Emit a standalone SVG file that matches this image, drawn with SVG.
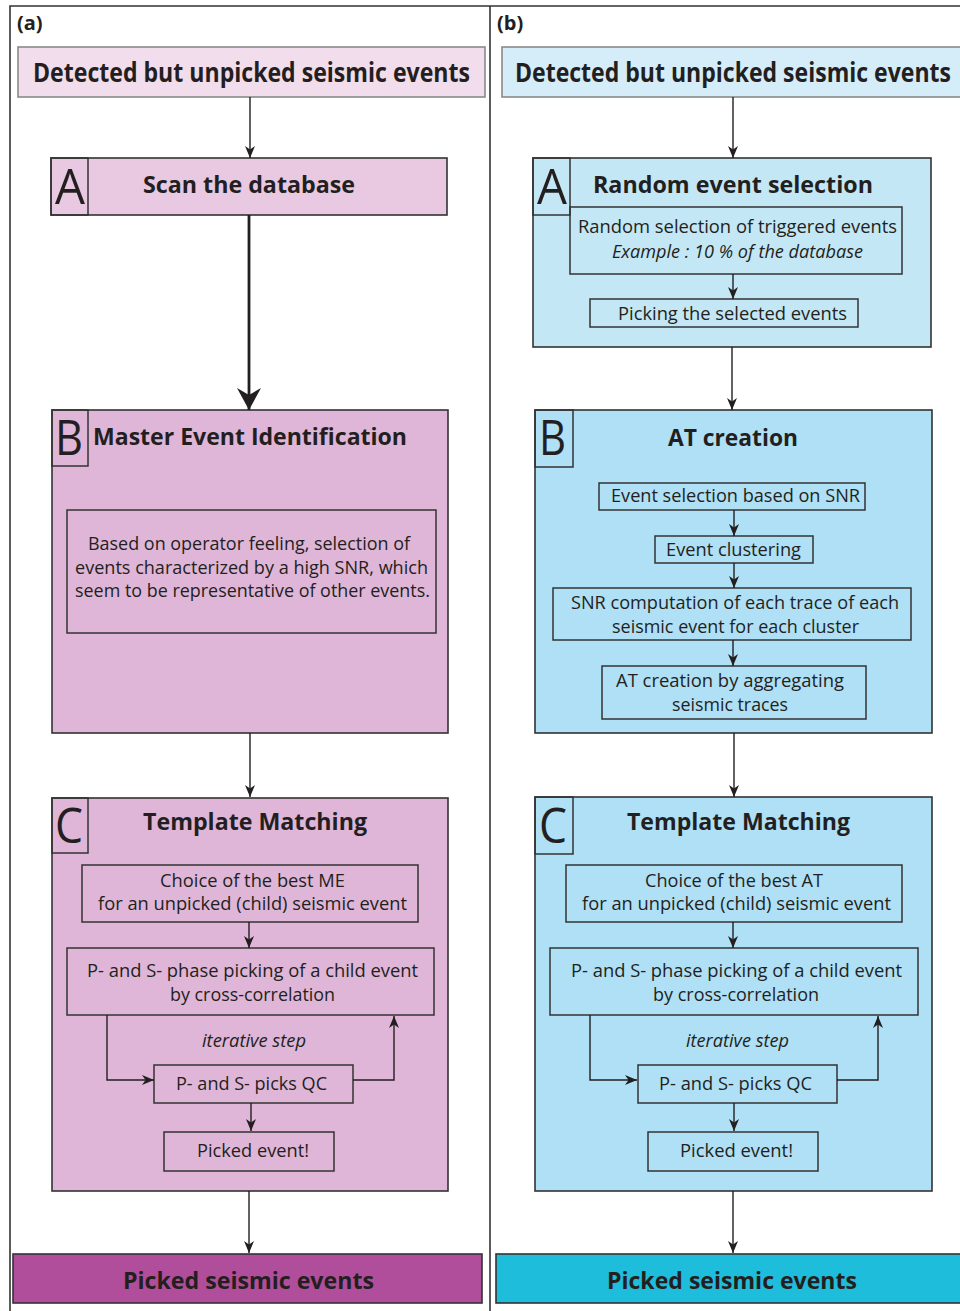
<svg xmlns="http://www.w3.org/2000/svg" width="960" height="1311" viewBox="0 0 960 1311">
<defs>
<style>
text{font-family:"Open Sans","Noto Sans","DejaVu Sans",sans-serif;fill:#231f20}
.t1{font-size:26px;font-weight:700}
.t2{font-size:24px;font-weight:700}
.r{font-size:18px}
.i{font-size:18px;font-style:italic}
.L{font-size:50px}
.p{font-size:20px;font-weight:700}
.bx{stroke:#333;stroke-width:1.6}
.top{stroke:#8a8a8a;stroke-width:1.6}
.in{fill:none;stroke:#333;stroke-width:1.5}
.ln{fill:none;stroke:#231f20;stroke-width:1.4}
.frame{fill:none;stroke:#333;stroke-width:1.6}
</style>
<marker id="ah" viewBox="0 0 12 12" refX="12" refY="6" markerWidth="12" markerHeight="12" markerUnits="userSpaceOnUse" orient="auto">
<path d="M0,1 L12,6 L0,11 L3.5,6 z" fill="#231f20"/>
</marker>
<marker id="ahB" viewBox="0 0 22 24" refX="22" refY="12" markerWidth="22" markerHeight="24" markerUnits="userSpaceOnUse" orient="auto">
<path d="M0,0 L22,12 L0,24 L7,12 z" fill="#231f20"/>
</marker>
</defs>
<rect width="960" height="1311" fill="#ffffff"/>
<g id="frame">
<path class="frame" d="M10,1311 V6 H960"/>
<path class="frame" d="M490,6 V1311"/>
<text class="p" x="17" y="30">(a)</text>
<text class="p" x="497" y="30">(b)</text>
</g>

<!-- LEFT PANEL -->
<g id="a-top">
<rect class="top" x="18" y="47" width="467" height="50" fill="#f2ddec"/>
<text class="t1" x="33" y="82" textLength="437" lengthAdjust="spacingAndGlyphs">Detected but unpicked seismic events</text>
</g>
<g id="a-A">
<rect class="bx" x="51" y="158" width="396" height="57" fill="#e9c8e1"/>
<rect class="in" x="51" y="158" width="37" height="57"/>
<text class="L" x="55" y="204" textLength="30" lengthAdjust="spacingAndGlyphs">A</text>
<text class="t2" x="143" y="193" textLength="212" lengthAdjust="spacingAndGlyphs">Scan the database</text>
</g>
<g id="a-B">
<rect class="bx" x="52" y="410" width="396" height="323" fill="#dfb6d7"/>
<rect class="in" x="52" y="410" width="36" height="56"/>
<text class="L" x="55" y="455" textLength="28" lengthAdjust="spacingAndGlyphs">B</text>
<text class="t2" x="93" y="445" textLength="314" lengthAdjust="spacingAndGlyphs">Master Event Identification</text>
</g>
<g id="a-B1">
<rect class="in" x="67" y="510" width="369" height="123"/>
<text class="r" x="88" y="550" textLength="322" lengthAdjust="spacingAndGlyphs">Based on operator feeling, selection of</text>
<text class="r" x="75" y="574" textLength="353" lengthAdjust="spacingAndGlyphs">events characterized by a high SNR, which</text>
<text class="r" x="75" y="597" textLength="355" lengthAdjust="spacingAndGlyphs">seem to be representative of other events.</text>
</g>
<g id="a-C">
<rect class="bx" x="52" y="798" width="396" height="393" fill="#dfb6d7"/>
<rect class="in" x="52" y="798" width="36" height="55"/>
<text class="L" x="55" y="843" textLength="28" lengthAdjust="spacingAndGlyphs">C</text>
<text class="t2" x="143" y="830" textLength="224" lengthAdjust="spacingAndGlyphs">Template Matching</text>
<text class="i" x="202" y="1047" textLength="104" lengthAdjust="spacingAndGlyphs">iterative step</text>
</g>
<g id="a-C1">
<rect class="in" x="82" y="865" width="336" height="57"/>
<text class="r" x="160" y="887" textLength="185" lengthAdjust="spacingAndGlyphs">Choice of the best ME</text>
<text class="r" x="98" y="910" textLength="309" lengthAdjust="spacingAndGlyphs">for an unpicked (child) seismic event</text>
</g>
<g id="a-C2">
<rect class="in" x="67" y="948" width="367" height="67"/>
<text class="r" x="87" y="977" textLength="331" lengthAdjust="spacingAndGlyphs">P- and S- phase picking of a child event</text>
<text class="r" x="170" y="1001" textLength="165" lengthAdjust="spacingAndGlyphs">by cross-correlation</text>
</g>
<g id="a-C3">
<rect class="in" x="154" y="1065" width="199" height="38"/>
<text class="r" x="176" y="1090" textLength="151" lengthAdjust="spacingAndGlyphs">P- and S- picks QC</text>
</g>
<g id="a-C4">
<rect class="in" x="164" y="1132" width="170" height="39"/>
<text class="r" x="197" y="1157" textLength="112" lengthAdjust="spacingAndGlyphs">Picked event!</text>
</g>
<g id="a-bottom">
<rect class="bx" x="13" y="1254" width="469" height="49" fill="#b04e9b"/>
<text class="t2" x="123" y="1289" textLength="251" lengthAdjust="spacingAndGlyphs">Picked seismic events</text>
</g>

<!-- RIGHT PANEL -->
<g id="b-top">
<rect class="top" x="502" y="47" width="470" height="50" fill="#d5edf8"/>
<text class="t1" x="515" y="82" textLength="436" lengthAdjust="spacingAndGlyphs">Detected but unpicked seismic events</text>
</g>
<g id="b-A">
<rect class="bx" x="533" y="158" width="398" height="189" fill="#c4e7f6"/>
<rect class="in" x="533" y="158" width="37" height="57"/>
<text class="L" x="537" y="204" textLength="30" lengthAdjust="spacingAndGlyphs">A</text>
<text class="t2" x="593" y="193" textLength="280" lengthAdjust="spacingAndGlyphs">Random event selection</text>
</g>
<g id="b-A1">
<rect class="in" x="570" y="207" width="332" height="67"/>
<text class="r" x="578" y="233" textLength="319" lengthAdjust="spacingAndGlyphs">Random selection of triggered events</text>
<text class="i" x="612" y="258" textLength="251" lengthAdjust="spacingAndGlyphs">Example : 10 % of the database</text>
</g>
<g id="b-A2">
<rect class="in" x="590" y="299" width="268" height="28"/>
<text class="r" x="618" y="320" textLength="229" lengthAdjust="spacingAndGlyphs">Picking the selected events</text>
</g>
<g id="b-B">
<rect class="bx" x="535" y="410" width="397" height="323" fill="#afe0f6"/>
<rect class="in" x="535" y="410" width="38" height="57"/>
<text class="L" x="539" y="455" textLength="27" lengthAdjust="spacingAndGlyphs">B</text>
<text class="t2" x="668" y="446" textLength="130" lengthAdjust="spacingAndGlyphs">AT creation</text>
</g>
<g id="b-B1">
<rect class="in" x="599" y="483" width="266" height="27"/>
<text class="r" x="611" y="502" textLength="249" lengthAdjust="spacingAndGlyphs">Event selection based on SNR</text>
</g>
<g id="b-B2">
<rect class="in" x="655" y="536" width="158" height="27"/>
<text class="r" x="666" y="556" textLength="135" lengthAdjust="spacingAndGlyphs">Event clustering</text>
</g>
<g id="b-B3">
<rect class="in" x="553" y="588" width="358" height="52"/>
<text class="r" x="571" y="609" textLength="328" lengthAdjust="spacingAndGlyphs">SNR computation of each trace of each</text>
<text class="r" x="612" y="633" textLength="247" lengthAdjust="spacingAndGlyphs">seismic event for each cluster</text>
</g>
<g id="b-B4">
<rect class="in" x="602" y="666" width="264" height="53"/>
<text class="r" x="616" y="687" textLength="228" lengthAdjust="spacingAndGlyphs">AT creation by aggregating</text>
<text class="r" x="672" y="711" textLength="116" lengthAdjust="spacingAndGlyphs">seismic traces</text>
</g>
<g id="b-C">
<rect class="bx" x="535" y="797" width="397" height="394" fill="#afe0f6"/>
<rect class="in" x="535" y="797" width="38" height="57"/>
<text class="L" x="539" y="843" textLength="28" lengthAdjust="spacingAndGlyphs">C</text>
<text class="t2" x="627" y="830" textLength="223" lengthAdjust="spacingAndGlyphs">Template Matching</text>
<text class="i" x="686" y="1047" textLength="103" lengthAdjust="spacingAndGlyphs">iterative step</text>
</g>
<g id="b-C1">
<rect class="in" x="566" y="865" width="336" height="57"/>
<text class="r" x="645" y="887" textLength="178" lengthAdjust="spacingAndGlyphs">Choice of the best AT</text>
<text class="r" x="582" y="910" textLength="309" lengthAdjust="spacingAndGlyphs">for an unpicked (child) seismic event</text>
</g>
<g id="b-C2">
<rect class="in" x="550" y="948" width="368" height="67"/>
<text class="r" x="571" y="977" textLength="331" lengthAdjust="spacingAndGlyphs">P- and S- phase picking of a child event</text>
<text class="r" x="653" y="1001" textLength="166" lengthAdjust="spacingAndGlyphs">by cross-correlation</text>
</g>
<g id="b-C3">
<rect class="in" x="638" y="1065" width="199" height="38"/>
<text class="r" x="659" y="1090" textLength="153" lengthAdjust="spacingAndGlyphs">P- and S- picks QC</text>
</g>
<g id="b-C4">
<rect class="in" x="648" y="1132" width="170" height="39"/>
<text class="r" x="680" y="1157" textLength="113" lengthAdjust="spacingAndGlyphs">Picked event!</text>
</g>
<g id="b-bottom">
<rect class="bx" x="496" y="1254" width="476" height="49" fill="#1fbddc"/>
<text class="t2" x="607" y="1289" textLength="250" lengthAdjust="spacingAndGlyphs">Picked seismic events</text>
</g>

<g id="connectors">
<!-- left -->
<line class="ln" x1="250" y1="97" x2="250" y2="158" marker-end="url(#ah)"/>
<line x1="249" y1="215" x2="249" y2="410" stroke="#231f20" stroke-width="2.8" marker-end="url(#ahB)"/>
<line class="ln" x1="250" y1="733" x2="250" y2="797" marker-end="url(#ah)"/>
<line class="ln" x1="249" y1="922" x2="249" y2="948" marker-end="url(#ah)"/>
<polyline class="ln" points="107,1015 107,1080 154,1080" marker-end="url(#ah)"/>
<polyline class="ln" points="353,1080 394,1080 394,1016" marker-end="url(#ah)"/>
<line class="ln" x1="251" y1="1103" x2="251" y2="1131" marker-end="url(#ah)"/>
<line class="ln" x1="249" y1="1191" x2="249" y2="1253" marker-end="url(#ah)"/>
<!-- right -->
<line class="ln" x1="733" y1="97" x2="733" y2="158" marker-end="url(#ah)"/>
<line class="ln" x1="733" y1="274" x2="733" y2="299" marker-end="url(#ah)"/>
<line class="ln" x1="732" y1="347" x2="732" y2="410" marker-end="url(#ah)"/>
<line class="ln" x1="734" y1="510" x2="734" y2="536" marker-end="url(#ah)"/>
<line class="ln" x1="734" y1="563" x2="734" y2="588" marker-end="url(#ah)"/>
<line class="ln" x1="733" y1="640" x2="733" y2="666" marker-end="url(#ah)"/>
<line class="ln" x1="734" y1="733" x2="734" y2="797" marker-end="url(#ah)"/>
<line class="ln" x1="733" y1="922" x2="733" y2="948" marker-end="url(#ah)"/>
<polyline class="ln" points="590,1015 590,1080 637,1080" marker-end="url(#ah)"/>
<polyline class="ln" points="837,1080 878,1080 878,1016" marker-end="url(#ah)"/>
<line class="ln" x1="734" y1="1103" x2="734" y2="1131" marker-end="url(#ah)"/>
<line class="ln" x1="733" y1="1191" x2="733" y2="1253" marker-end="url(#ah)"/>
</g>
</svg>
